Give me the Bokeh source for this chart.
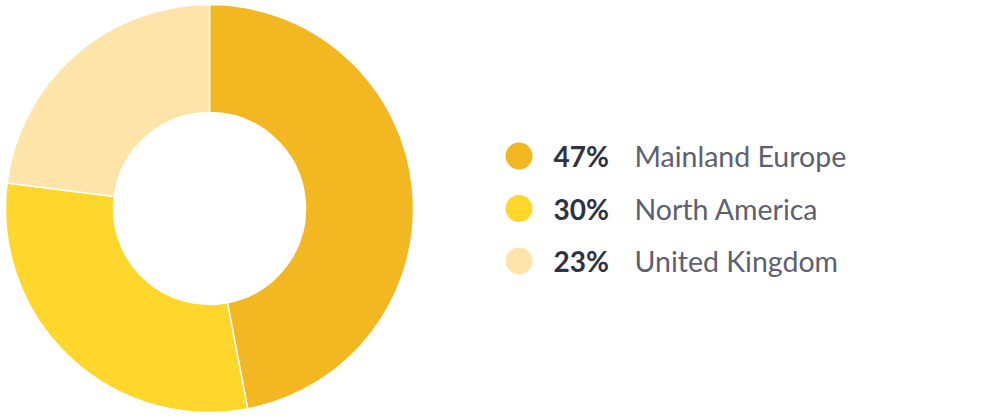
from bokeh.plotting import figure
from bokeh.models import Range1d, ColumnDataSource
from bokeh.core.properties import value
from bokeh.embed import file_html
from bokeh.resources import INLINE
import math

regions = ["Mainland Europe", "North America", "United Kingdom"]
shares = [47, 30, 23]
colors = ["#F3B722", "#FED62C", "#FEE4A8"]

W, H = 994, 417
p = figure(width=W, height=H, output_backend="svg", toolbar_location=None,
           x_range=Range1d(0, W), y_range=Range1d(0, H), min_border=0)
p.axis.visible = False
p.grid.visible = False
p.outline_line_color = None
p.background_fill_color = "white"
p.border_fill_color = "white"

# donut
total = sum(shares)
starts, ends = [], []
cum = 0
for s in shares:
    starts.append(math.pi / 2 - 2 * math.pi * cum / total)
    cum += s
    ends.append(math.pi / 2 - 2 * math.pi * cum / total)
src = ColumnDataSource(dict(start=starts, end=ends, color=colors))
cx, cy = 209, 209
p.annular_wedge(x=cx, y=cy, inner_radius=96, outer_radius=204,
                start_angle="start", end_angle="end", direction="clock",
                fill_color="color", line_color="white", line_width=1.5, source=src)

# legend
ly0, dy = 261.5, 52.5
ys = [ly0 - i * dy for i in range(len(regions))]
pct = [f"{s}%" for s in shares]
lsrc = ColumnDataSource(dict(y=ys, color=colors, pct=pct, name=regions))
p.scatter(x=518.5, y="y", size=27, marker="circle", fill_color="color",
          line_color=None, source=lsrc)
p.text(x=553, y="y", text="pct", source=lsrc, text_font=value("Lato"),
       text_font_style="bold", text_font_size="28px", text_color="#30323F",
       text_baseline="middle", text_align="left")
p.text(x=634, y="y", text="name", source=lsrc, text_font=value("Lato"),
       text_font_size="28.5px", text_color="#5E606E",
       text_baseline="middle", text_align="left")

open("out.html", "w").write(file_html(p, INLINE))
